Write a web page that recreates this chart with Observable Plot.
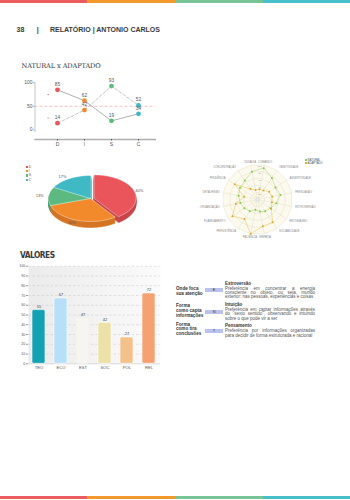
<!DOCTYPE html>
<html><head><meta charset="utf-8">
<script src="https://cdn.jsdelivr.net/npm/d3@7"></script>
<script src="https://cdn.jsdelivr.net/npm/@observablehq/plot@0.6"></script>
<style>
body{margin:0;background:#fff;}
#page{position:relative;width:350px;height:500px;overflow:hidden;background:#fff;font-family:"Liberation Sans",Arial,sans-serif;color:#333;}
.abs{position:absolute;white-space:nowrap;}
.stripe{position:absolute;height:3.4px;}
.lbl{position:absolute;font-weight:bold;font-size:4.6px;line-height:4.8px;color:#333;}
.box{position:absolute;left:205px;width:18px;height:4px;background:#bac1ec;font-size:3.8px;line-height:4px;text-align:center;color:#333;}
.ttl{position:absolute;left:225px;font-weight:bold;font-size:4.5px;line-height:4.5px;color:#333;}
.par{position:absolute;left:225px;width:90px;font-size:4.5px;line-height:4.4px;text-align:justify;text-align-last:left;color:#555;}
.plotwrap{position:absolute;}
.plotwrap svg{overflow:visible;}
.leg{position:absolute;font-size:3.4px;line-height:4.4px;color:#555;}
.leg span.sq{display:inline-block;width:2.2px;height:2.2px;margin-right:1px;vertical-align:middle;}
</style></head><body><div id="page">
<div class="stripe" style="left:0;top:0;width:87px;background:#ea5c60"></div>
<div class="stripe" style="left:87px;top:0;width:88px;background:#f3982d"></div>
<div class="stripe" style="left:175px;top:0;width:88px;background:#79c496"></div>
<div class="stripe" style="left:263px;top:0;width:87px;background:#48bfcb"></div>
<div class="stripe" style="left:0;top:496px;width:87px;background:#ea5c60"></div>
<div class="stripe" style="left:87px;top:496px;width:88px;background:#f3982d"></div>
<div class="stripe" style="left:175px;top:496px;width:88px;background:#79c496"></div>
<div class="stripe" style="left:263px;top:496px;width:87px;background:#48bfcb"></div>

<div class="abs" style="left:16.5px;top:25.5px;font-size:7px;font-weight:bold;color:#3a3a3a;">38</div>
<div class="abs" style="left:36.8px;top:25.5px;font-size:7px;font-weight:bold;color:#3a3a3a;">|</div>
<div class="abs" style="left:50px;top:25.5px;font-size:7px;font-weight:bold;color:#3a3a3a;">RELATÓRIO | ANTONIO CARLOS</div>

<div class="abs" style="left:21.5px;top:62.3px;font-family:'DejaVu Serif',serif;font-size:6.6px;letter-spacing:-0.1px;color:#333;">NATURAL x ADAPTADO</div>
<div class="plotwrap" id="lineChart" style="left:0;top:75px;"></div>

<div class="plotwrap" id="pieChart" style="left:0;top:150px;"></div>
<div class="leg" id="pieLegend" style="left:25.5px;top:164.5px;"></div>

<div class="plotwrap" id="radarChart" style="left:175px;top:145px;"></div>
<div class="leg" id="radarLegend" style="left:305px;top:158.5px;font-size:2.8px;line-height:3.4px;"></div>

<div class="abs" style="left:20px;top:249.5px;font-family:'DejaVu Sans Condensed','DejaVu Sans',sans-serif;font-size:8.3px;font-weight:bold;letter-spacing:-0.5px;color:#3a3a3a;">VALORES</div>
<div class="plotwrap" id="barChart" style="left:0;top:262px;"></div>

<div id="textTable"></div>
</div>
<script>
// ---------- data ----------
const discLetters = ["D", "I", "S", "C"];
const naturalValues = [85, 62, 19, 34];
const adaptadoValues = [14, 42, 93, 52];
const discColors = ["#e9555a", "#f28a2c", "#5cba80", "#3fb9c4"];
const discSideColors = ["#c8474c", "#d57524", "#4aa06b", "#34a0a9"];
const piePercents = [40, 30, 13, 17];
const lineTicks = [0, 50, 100];
const lineMinorTicks = [25, 75];

const radarLabels = ["COMANDO", "OBJETIVIDADE", "ASSERTIVIDADE", "PERSUASÃO", "EXTROVERSÃO", "ENTUSIASMO", "SOCIABILIDADE", "EMPATIA", "PACIÊNCIA", "PERSISTÊNCIA", "PLANEJAMENTO", "ORGANIZAÇÃO", "DETALHISMO", "PRUDÊNCIA", "CONCENTRAÇÃO", "OUSADIA"];
const radarNatural = [91, 74, 62, 67, 55, 45, 40, 35, 30, 40, 45, 50, 55, 60, 65, 81];
const radarAdaptado = [30, 31, 40, 43, 42, 47, 78, 78, 100, 67, 86, 63, 39, 78, 36, 28];
const radarTicks = [20, 40, 60, 80, 100];
const radarSeries = ["NATURAL", "ADAPTADO"];
const radarColors = ["#86c94c", "#deab28"];
const radarLineColors = ["#a9da7e", "#ebc868"];

const valoresLabels = ["TEO", "ECO", "EST", "SOC", "POL", "REL"];
const valoresValues = [55, 67, 47, 42, 27, 72];
const valoresColors = ["#13a2b3", "#b7e0f8", "#f6f5f0", "#ece1a6", "#f4c18a", "#f5a172"];
const valoresTicks = [0, 10, 20, 30, 40, 50, 60, 70, 80, 90, 100];

const tableQuestions = [["Onde foca", "sua atenção"], ["Forma", "como capta", "informações"], ["Forma", "como tira", "conclusões"]];
const tableLetters = ["E", "N", "T"];
const tableTitles = ["Extroversão", "Intuição", "Pensamento"];
const tableTexts = [
  "Preferência em concentrar a energia consciente no objeto, ou seja, mundo exterior: nas pessoas, experiências e coisas",
  "Preferência em captar informações através do “sexto sentido”, observando e intuindo sobre o que pode vir a ser",
  "Preferência por informações organizadas para decidir de forma estruturada e racional"
];

// ---------- line chart ----------
const lineData = discLetters.flatMap((k, i) => [
  {k, v: naturalValues[i], s: "Natural", c: discColors[i]},
  {k, v: adaptadoValues[i], s: "Adaptado", c: discColors[i]}
]);
const nat = lineData.filter(d => d.s === "Natural");
const adp = lineData.filter(d => d.s === "Adaptado");
const lineChart = Plot.plot({
  width: 175, height: 75,
  marginLeft: 34.5, marginRight: 20, marginTop: 0, marginBottom: 11,
  x: {type: "point", domain: discLetters, range: [43.3, 151.7]},
  y: {domain: [0, 100], range: [54.3, 7.3]},
  color: {type: "identity"},
  style: {fontSize: "5px", fontFamily: "Liberation Sans, Arial, sans-serif", color: "#555", background: "transparent", overflow: "visible"},
  marks: [
    Plot.ruleY([50], {stroke: "#f6a8a8", strokeDasharray: "3,2", strokeWidth: 0.7}),
    Plot.frame({anchor: "bottom", stroke: "#b0b0b0", strokeWidth: 1.3}),
    Plot.frame({anchor: "left", stroke: "#b8b8b8", strokeWidth: 0.8, insetTop: 7, insetBottom: 8}),
    Plot.axisY({ticks: lineTicks, tickSize: 1.5, tickPadding: 1, label: null, stroke: "#aaa"}),
    Plot.ruleY(lineMinorTicks, {x1: () => "D", x2: () => "D", dx: -8.8, insetLeft: -0.8, insetRight: -0.8, stroke: "#f07070", strokeWidth: 0.8}),
    Plot.axisX({tickSize: 1.5, tickPadding: 1.5, label: null}),
    Plot.line(nat, {x: "k", y: "v", stroke: "#a8a8a8", strokeWidth: 0.9}),
    Plot.line(adp, {x: "k", y: "v", stroke: "#b8b8b8", strokeWidth: 0.8, strokeDasharray: "3,2"}),
    Plot.dot(lineData, {x: "k", y: "v", fill: "c", r: 2.4}),
    Plot.text(lineData, {x: "k", y: "v", text: "v", dy: -5.5, fill: "#555", fontSize: 4.8})
  ]
});
document.getElementById("lineChart").append(lineChart);

// ---------- pie chart ----------
const pieTop = [], pieLabels = [];
let acc = 0;
piePercents.forEach((p, i) => {
  const a0 = acc / 100 * 2 * Math.PI, a1 = (acc + p) / 100 * 2 * Math.PI;
  acc += p;
  const mid = (a0 + a1) / 2;
  const off = i === 0 ? 0.09 : 0;
  const ox = off * Math.sin(mid), oy = -off * Math.cos(mid);
  pieTop.push({slice: discLetters[i], c: discColors[i], sc: discSideColors[i], x: ox, y: oy});
  const steps = Math.max(4, Math.ceil((a1 - a0) / 0.04));
  for (let s = 0; s <= steps; s++) {
    const a = a0 + (a1 - a0) * s / steps;
    pieTop.push({slice: discLetters[i], c: discColors[i], sc: discSideColors[i], x: ox + Math.sin(a), y: oy - Math.cos(a)});
  }
  pieLabels.push({t: p + "%", x: 1.12 * Math.sin(mid), y: -1.12 * Math.cos(mid), right: Math.sin(mid) >= 0});
});
const depthMarks = [6, 5, 4, 3, 2, 1].map(d => Plot.line(pieTop, {x: "x", y: "y", z: "slice", fill: "sc", stroke: "sc", strokeWidth: 0.6, dy: d, curve: "linear-closed"}));
const pieChart = Plot.plot({
  width: 175, height: 90, margin: 0,
  x: {domain: [-1, 1], range: [48, 132], axis: null},
  y: {domain: [-1, 1], range: [25, 71], axis: null},
  color: {type: "identity"},
  style: {fontSize: "4px", fontFamily: "Liberation Sans, Arial, sans-serif", background: "transparent", overflow: "visible"},
  marks: [
    ...depthMarks,
    Plot.line(pieTop, {x: "x", y: "y", z: "slice", fill: "c", stroke: "#ffffff", strokeWidth: 0.4, curve: "linear-closed"}),
    Plot.text(pieLabels.filter(d => d.right), {x: "x", y: "y", text: "t", textAnchor: "start", fill: "#555", fontSize: 4}),
    Plot.text(pieLabels.filter(d => !d.right), {x: "x", y: "y", text: "t", textAnchor: "end", fill: "#555", fontSize: 4})
  ]
});
document.getElementById("pieChart").append(pieChart);
document.getElementById("pieLegend").innerHTML = discLetters.map((k, i) =>
  `<div><span class="sq" style="background:${discColors[i]}"></span>${k}</div>`).join("");

// ---------- radar chart ----------
const n = radarLabels.length;
const ang = i => (i + 0.5) * 2 * Math.PI / n;
const ringPts = radarTicks.flatMap(t => d3.range(n).map(i => ({t, x: t * Math.sin(ang(i)), y: -t * Math.cos(ang(i))})));
const spokes = radarLabels.map((l, i) => ({x: 100 * Math.sin(ang(i)), y: -100 * Math.cos(ang(i))}));
const seriesPts = radarSeries.flatMap((s, si) => (si === 0 ? radarNatural : radarAdaptado).map((v, i) => ({
  s, c: radarColors[si], lc: radarLineColors[si], x: v * Math.sin(ang(i)), y: -v * Math.cos(ang(i))
})));
const labelPts = radarLabels.map((l, i) => {
  const sx = Math.sin(ang(i));
  return {l, x: 110 * sx, y: -110 * Math.cos(ang(i)), side: Math.abs(sx) < 0.25 ? "middle" : (sx > 0 ? "start" : "end")};
});
const radarChart = Plot.plot({
  width: 175, height: 100, margin: 0,
  x: {domain: [-100, 100], range: [47, 117], axis: null},
  y: {domain: [-100, 100], range: [19, 89], axis: null},
  color: {type: "identity"},
  style: {fontSize: "3px", fontFamily: "Liberation Sans, Arial, sans-serif", background: "transparent", overflow: "visible"},
  marks: [
    Plot.line(ringPts.filter(d => d.t === 100), {x: "x", y: "y", fill: "#fcfaee", stroke: "#e4dfc6", strokeWidth: 0.5, curve: "linear-closed"}),
    Plot.line(ringPts.filter(d => d.t < 100), {x: "x", y: "y", z: "t", stroke: "#e4dfc6", strokeWidth: 0.5, curve: "linear-closed"}),
    Plot.link(spokes, {x1: 0, y1: 0, x2: "x", y2: "y", stroke: "#e4dfc6", strokeWidth: 0.5}),
    Plot.dot([0], {x: 0, y: 0, r: 2, fill: "#e8e8e8", stroke: "#ccc", strokeWidth: 0.3}),
    Plot.text(radarTicks, {x: 0, y: d => -d, text: d => d, fill: "#999", fontSize: 2.4, dx: 2.2, dy: 1.8}),
    Plot.line(seriesPts, {x: "x", y: "y", z: "s", stroke: "lc", strokeWidth: 0.6, curve: "linear-closed"}),
    Plot.dot(seriesPts, {x: "x", y: "y", fill: "c", r: 1}),
    ...["start", "end", "middle"].map(a => Plot.text(labelPts.filter(d => d.side === a), {x: "x", y: "y", text: "l", textAnchor: a, fill: "#888", fontSize: 2.7}))
  ]
});
document.getElementById("radarChart").append(radarChart);
document.getElementById("radarLegend").innerHTML = radarSeries.map((s, i) =>
  `<div><span class="sq" style="width:1.6px;height:1.6px;background:${radarColors[i]}"></span>${s}</div>`).join("");

// ---------- bar chart ----------
const valData = valoresLabels.map((k, i) => ({k, v: valoresValues[i], c: valoresColors[i]}));
const defs = () => {
  const g = d3.create("svg:defs");
  const lg = g.append("linearGradient").attr("id", "valGrad").attr("x1", 0).attr("x2", 1).attr("y1", 0).attr("y2", 0);
  lg.append("stop").attr("offset", "0%").attr("stop-color", "#ebebeb");
  lg.append("stop").attr("offset", "100%").attr("stop-color", "#fbfbfb");
  return g.node();
};
const barChart = Plot.plot({
  width: 175, height: 112,
  marginLeft: 28, marginRight: 15, marginTop: 3.7, marginBottom: 10.7,
  x: {domain: valoresLabels, paddingInner: 0.4, paddingOuter: 0.2, label: null},
  y: {domain: [0, 100], label: null},
  color: {type: "identity"},
  style: {fontSize: "4px", fontFamily: "Liberation Sans, Arial, sans-serif", color: "#555", background: "transparent", overflow: "visible"},
  marks: [
    defs,
    Plot.frame({fill: "url(#valGrad)", stroke: "none"}),
    Plot.gridY(valoresTicks.filter(t => t > 0), {stroke: "#c8c8c8", strokeOpacity: 1, strokeWidth: 0.5, strokeDasharray: "2.5,2"}),
    Plot.ruleY([0], {stroke: "#cfcfcf", strokeWidth: 0.8}),
    Plot.axisY({ticks: valoresTicks, tickSize: 2, tickPadding: 1.2, stroke: "#999", label: null, fontSize: 3.6}),
    Plot.axisX({tickSize: 0, tickPadding: 2.5, label: null, fontSize: 4.2}),
    Plot.barY(valData, {x: "k", y: "v", fill: "c", rx: 1.5, stroke: "#ffffff", strokeWidth: 0.6}),
    Plot.barY(valData.filter(d => d.k === "EST"), {x: "k", y: "v", fill: "none", rx: 1.5, stroke: "#e2e0d8", strokeWidth: 0.4}),
    Plot.text(valData, {x: "k", y: "v", text: "v", dy: -3.5, fill: "#444", fontSize: 4})
  ]
});
document.getElementById("barChart").append(barChart);

// ---------- text table ----------
const rowLabelTops = [286.8, 304.3, 322.6];
const rowBoxTops = [288.3, 310.3, 329.3];
const rowTitleTops = [281.8, 303, 324.4];
let html = "";
tableQuestions.forEach((q, i) => {
  html += `<div class="lbl" style="left:176px;top:${rowLabelTops[i]}px">${q.join("<br>")}</div>`;
  html += `<div class="box" style="top:${rowBoxTops[i]}px">${tableLetters[i]}</div>`;
  html += `<div class="ttl" style="top:${rowTitleTops[i]}px">${tableTitles[i]}</div>`;
  html += `<div class="par" style="top:${rowTitleTops[i] + 4.8}px">${tableTexts[i]}</div>`;
});
document.getElementById("textTable").innerHTML = html;
</script>
</body></html>
